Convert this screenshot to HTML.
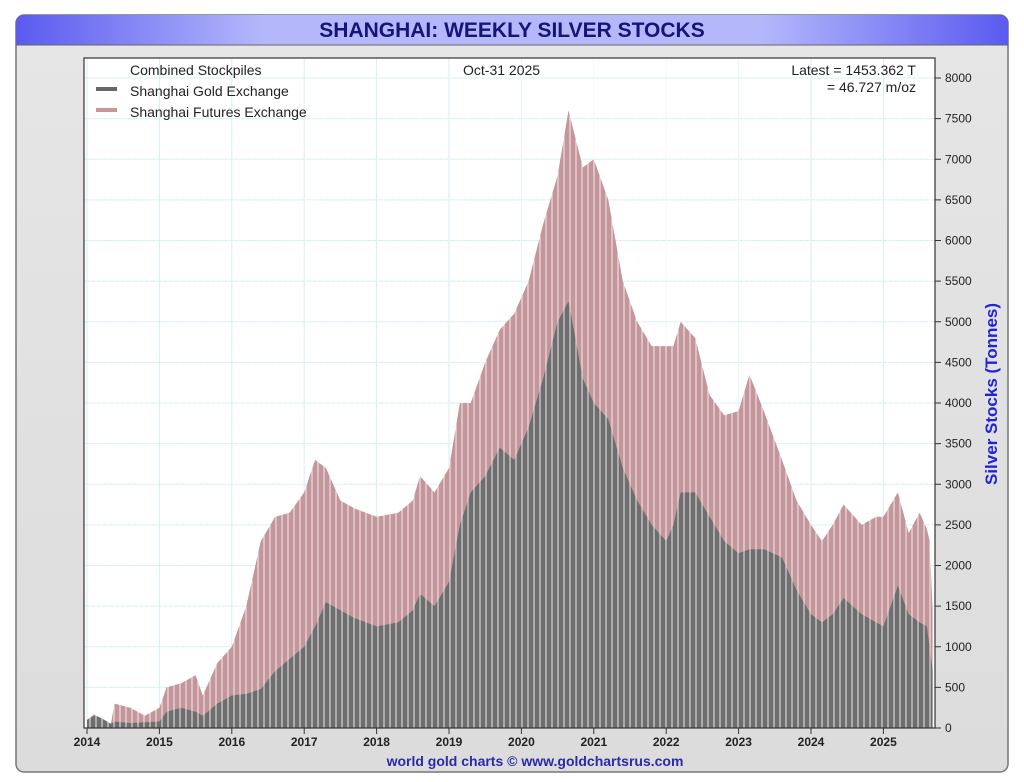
<!DOCTYPE html>
<html><head><meta charset="utf-8"><style>
body{margin:0;background:#fff;}
svg{display:block;font-family:"Liberation Sans",sans-serif;}
</style></head><body>
<svg id="s" width="1024" height="782" viewBox="0 0 1024 782">
<defs>
<linearGradient id="tg" x1="0" x2="1" y1="0" y2="0">
<stop offset="0" stop-color="#5a5af0"/><stop offset="0.25" stop-color="#b4b8fb"/><stop offset="0.75" stop-color="#b4b8fb"/><stop offset="1" stop-color="#5a5af0"/></linearGradient>
<linearGradient id="bg" x1="0" x2="0" y1="0" y2="1"><stop offset="0" stop-color="#e6e6e6"/><stop offset="1" stop-color="#dcdcdc"/></linearGradient>
</defs>
<rect x="16" y="15" width="992" height="757" rx="8" fill="url(#bg)" stroke="#777" stroke-width="1.5"/>
<path d="M16 45 V23 a8 8 0 0 1 8 -8 H1000 a8 8 0 0 1 8 8 V45 Z" fill="url(#tg)"/>
<line x1="16" y1="45" x2="1008" y2="45" stroke="#666"/>
<text x="512" y="37" text-anchor="middle" font-size="21" font-weight="bold" fill="#14147a">SHANGHAI: WEEKLY SILVER STOCKS</text>
<rect x="84" y="58" width="851" height="670" fill="#fff"/>
<g id="grid" stroke="#d8eef2" stroke-width="1"></g>
<g id="data"></g>
<rect x="84" y="58" width="851" height="670" fill="none" stroke="#333" stroke-width="1.2"/>
<g id="ax" font-size="12" fill="#222"></g>
<text x="130" y="75" font-size="14" fill="#222">Combined Stockpiles</text>
<rect x="96" y="87" width="21" height="4" fill="#666"/>
<text x="130" y="96" font-size="14" fill="#222">Shanghai Gold Exchange</text>
<rect x="96" y="108" width="21" height="4" fill="#c8959a"/>
<text x="130" y="117" font-size="14" fill="#222">Shanghai Futures Exchange</text>
<text x="463" y="75" font-size="14" fill="#222">Oct-31  2025</text>
<text x="916" y="75" font-size="14" fill="#222" text-anchor="end">Latest = 1453.362 T</text>
<text x="916" y="92" font-size="14" fill="#222" text-anchor="end">= 46.727 m/oz</text>
<text transform="translate(997,394) rotate(-90)" text-anchor="middle" font-size="17" font-weight="bold" fill="#2222dd">Silver Stocks (Tonnes)</text>
<text x="535" y="766" text-anchor="middle" font-size="14" font-weight="bold" fill="#2a2aa8">world gold charts © www.goldchartsrus.com</text>
</svg>
<script>
const NS="http://www.w3.org/2000/svg";
function el(t,a,p){const e=document.createElementNS(NS,t);for(const k in a)e.setAttribute(k,a[k]);p.appendChild(e);return e;}
const X=y=>87+(y-2014)*72.4, Y=v=>728-v*0.08125;
const g=document.getElementById('grid'),ax=document.getElementById('ax'),d=document.getElementById('data');
for(let v=500;v<=8000;v+=500){el('line',{x1:84,x2:935,y1:Y(v),y2:Y(v)},g);}
for(let yr=2014;yr<=2025;yr++){el('line',{x1:X(yr),x2:X(yr),y1:58,y2:728},g);}
for(let v=0;v<=8000;v+=500){el('line',{x1:935,x2:941,y1:Y(v),y2:Y(v),stroke:'#333'},ax);const t=el('text',{x:945,y:Y(v)+4},ax);t.textContent=v;}
for(let yr=2014;yr<=2025;yr++){el('line',{x1:X(yr),x2:X(yr),y1:728,y2:734,stroke:'#333'},ax);const t=el('text',{x:X(yr),y:746,'text-anchor':'middle','font-weight':'bold'},ax);t.textContent=yr;}
const k=[[2014,100,100],[2014.1,170,150],[2014.2,120,120],[2014.33,50,50],[2014.38,300,80],[2014.6,250,60],[2014.8,150,70],[2015,250,80],[2015.1,500,200],[2015.3,550,250],[2015.5,650,200],[2015.6,400,150],[2015.8,800,300],[2016,1000,400],[2016.2,1500,420],[2016.4,2300,480],[2016.6,2600,700],[2016.8,2650,850],[2017,2900,1000],[2017.15,3300,1250],[2017.3,3200,1550],[2017.5,2800,1450],[2017.7,2700,1350],[2018,2600,1250],[2018.3,2650,1300],[2018.5,2800,1450],[2018.6,3100,1650],[2018.8,2900,1500],[2019,3200,1800],[2019.15,4000,2500],[2019.3,4000,2900],[2019.5,4500,3100],[2019.7,4900,3450],[2019.9,5100,3300],[2020.1,5500,3700],[2020.3,6200,4300],[2020.5,6800,5000],[2020.65,7600,5250],[2020.85,6900,4300],[2021,7000,4000],[2021.2,6500,3800],[2021.4,5500,3200],[2021.6,5000,2800],[2021.8,4700,2500],[2022,4700,2300],[2022.1,4700,2500],[2022.2,5000,2900],[2022.4,4800,2900],[2022.6,4100,2600],[2022.8,3850,2300],[2023,3900,2150],[2023.15,4350,2200],[2023.35,3900,2200],[2023.6,3300,2100],[2023.8,2800,1700],[2024,2500,1400],[2024.15,2300,1300],[2024.3,2500,1400],[2024.45,2750,1600],[2024.7,2500,1400],[2024.9,2600,1300],[2025,2600,1250],[2025.2,2900,1750],[2025.35,2400,1400],[2025.5,2650,1300],[2025.6,2450,1250],[2025.64,2300,1000],[2025.68,1450,700]];
function path(i){let s='M'+X(k[0][0])+' 728';for(const p of k)s+=' L'+X(p[0]).toFixed(1)+' '+Y(p[i]).toFixed(1);s+=' L'+X(k[k.length-1][0]).toFixed(1)+' 728Z';return s;}
el('path',{d:path(1),fill:'#c4959a'},d);
el('path',{d:path(2),fill:'#6e6e6e'},d);
for(let x=90;x<932;x+=6)el('line',{x1:x,x2:x,y1:58,y2:728,stroke:'#fff','stroke-width':1,opacity:0.85},d);
</script>
</body></html>
